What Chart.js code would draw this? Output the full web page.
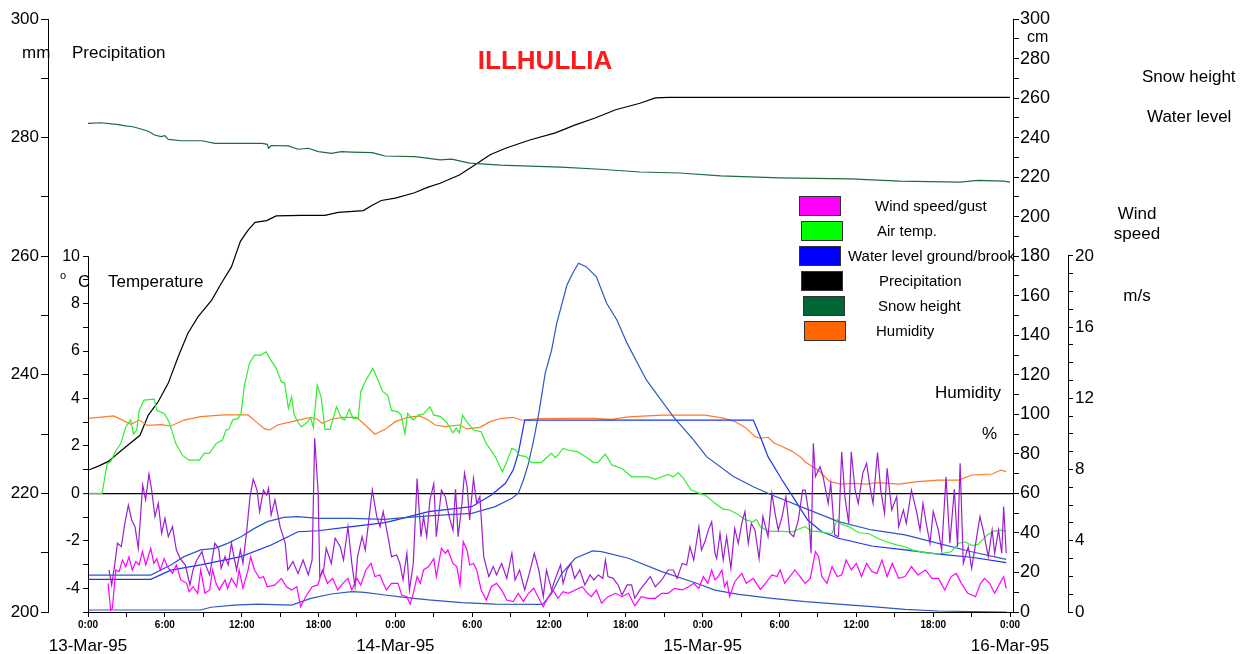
<!DOCTYPE html>
<html>
<head>
<meta charset="utf-8">
<title>ILLHULLIA</title>
<script src="https://cdn.jsdelivr.net/npm/chart.js@4.4.1/dist/chart.umd.min.js"></script>
<style>
  html, body { margin: 0; padding: 0; background: #fff; }
  #wrap { width: 1250px; height: 654px; }
</style>
</head>
<body>
<div id="wrap"><canvas id="illChart" width="1250" height="654"></canvas></div>
<script>
// hours since 13-Mar-95 0:00, value
const airTemp = [[0,0],[1.1,0],[1.5,1.26],[1.77,1.33],[2.17,1.8],[2.56,2.1],[2.95,2.8],[3.34,3.1],[3.55,2.5],[3.8,2.67],[4.0,3.5],[4.38,3.93],[5.17,3.97],[5.37,3.5],[5.95,3.37],[6.34,3.0],[6.86,2.1],[7.38,1.6],[7.9,1.4],[8.7,1.4],[9.08,1.69],[9.5,1.7],[10,2.1],[10.5,2.25],[10.77,2.67],[11.0,2.7],[11.3,3.1],[11.7,3.15],[11.95,3.37],[12.2,4.5],[12.6,5.48],[13,5.83],[13.5,5.83],[13.9,5.97],[14.3,5.6],[14.7,5.27],[15.1,4.7],[15.35,4.66],[15.65,3.58],[15.9,4.07],[16.1,3.3],[16.4,3.0],[16.65,2.8],[17,2.95],[17.4,3.16],[17.6,2.78],[17.9,4.56],[18.2,4.07],[18.5,2.7],[18.9,2.7],[19.4,3.65],[19.8,3.16],[20.05,3.1],[20.4,3.55],[20.7,3.16],[21.1,3.16],[21.3,4.3],[21.7,4.77],[22.25,5.27],[22.65,4.77],[23,4.3],[23.4,4.14],[23.7,3.5],[24.2,3.44],[24.45,3.3],[24.75,2.52],[24.96,3.37],[25.4,3.1],[25.8,3.3],[26.2,3.35],[26.7,3.65],[27,3.3],[27.5,3.25],[28,3.0],[28.5,2.55],[28.75,2.75],[29.0,2.55],[29.25,3.3],[29.55,3.05],[30.1,2.67],[30.7,2.6],[31.1,2.1],[31.5,1.8],[31.9,1.45],[32.35,0.9],[32.7,1.33],[33.1,1.9],[33.4,1.83],[33.7,1.6],[34.2,1.55],[34.65,1.3],[35.4,1.3],[35.8,1.5],[36.2,1.69],[36.5,1.5],[37.1,1.9],[37.5,1.83],[38.2,1.76],[38.8,1.57],[39.5,1.3],[39.8,1.3],[40.4,1.66],[40.9,1.2],[41.7,1.05],[42.45,0.7],[43.75,0.7],[44.3,0.59],[44.8,0.7],[45.3,0.8],[45.7,0.7],[46.1,0.87],[46.5,0.63],[47.1,0.14],[47.75,0],[48.2,-0.07],[48.96,-0.42],[49.6,-0.66],[50.1,-0.7],[50.8,-0.9],[51.3,-1.1],[51.9,-1.2],[52.2,-1.1],[52.5,-1.4],[53.1,-1.6],[54.2,-1.6],[55,-1.62],[55.5,-1.5],[56,-1.4],[56.5,-1.6],[57,-1.6],[58.1,-1.7],[58.5,-1.1],[58.8,-1.3],[59.4,-1.4],[60.2,-1.66],[61,-1.7],[61.7,-1.9],[62.4,-2.05],[63.2,-2.18],[63.8,-2.25],[64.4,-2.39],[65.4,-2.5],[66.4,-2.56],[67.4,-2.46],[68,-2.1],[68.5,-2.04],[69,-2.2],[69.5,-2.15],[70.2,-1.76],[70.7,-1.6],[71.3,-1.55],[71.7,-1.6]];

const humidity = [[0,98],[2.03,99.2],[3.34,95],[4,97.1],[4.64,94.4],[5.7,94.8],[6.47,94.1],[7.5,97.1],[8.8,98.8],[10.6,99.7],[12.5,99.7],[13.1,96.3],[13.8,92.6],[14.2,92.1],[14.8,94.6],[15.9,96.3],[17.4,98.5],[17.9,97.5],[18.3,95.5],[19,97.5],[19.8,98.5],[20.95,98.5],[21.5,95.5],[22.4,89.9],[23.2,92.4],[24,96.3],[25,98.5],[25.9,99.2],[26.6,97],[27.1,94.6],[27.9,93.8],[29,94.6],[29.6,92.6],[30.6,93.4],[31.4,96.3],[32.3,98],[33.2,98.5],[33.9,97],[35.2,97.9],[37.5,98],[39.5,98],[40.9,97.5],[42.2,98.7],[44.8,99.6],[46.9,99.6],[48.2,99.6],[49.7,98],[50.5,96.4],[51.3,93.5],[52.1,88.7],[52.5,87.9],[53.1,88.4],[53.6,85.4],[54.2,83.7],[54.95,81.4],[55.7,78.1],[56,75.9],[56.5,73.9],[57.1,71.3],[57.9,66],[58.8,64.7],[59.8,65.1],[60.7,64.7],[61.7,65.4],[63.3,64.7],[64.8,66],[66.4,66.7],[68,66.7],[69,69.3],[70.6,69.8],[71.3,71.8],[71.7,71]];

const snowHeight = [[0,247.2],[1.0,247.5],[1.85,246.9],[2.4,246.6],[2.9,245.9],[3.5,245.5],[4.2,244.2],[4.7,243.2],[5.2,241.3],[5.7,240.5],[6.0,241],[6.27,239.1],[7.3,238.4],[8.9,238.4],[9.9,237.1],[13.6,237.1],[14.0,236.6],[14.1,234.6],[14.3,236],[15.65,235.8],[16.4,234.1],[17.2,234.6],[18,232.9],[19,232],[19.8,232.9],[20.6,232.7],[22.2,232.4],[22.7,231.5],[23.2,230.7],[25.5,230.4],[26,230],[27.5,228.7],[28.4,229.1],[29.8,227.1],[32.2,226.1],[34.5,225.6],[36.9,225.1],[40,224],[43.1,222.6],[46.2,222.1],[49.4,220.6],[54,219.6],[59.5,219.1],[63.4,218],[68.1,217.5],[69.5,218.4],[71.5,218],[72,217.5]];

const precipitation = [[0,223.9],[0.81,224.6],[1.59,225.4],[2.37,226.8],[3.15,228.2],[4.06,229.8],[4.71,233.2],[5.49,235.5],[6.27,238.6],[7.05,243.1],[7.8,247],[8.6,249.8],[9.66,252.6],[10.4,255.4],[11.2,258.2],[11.9,262.5],[12.5,264.4],[13.05,265.7],[13.95,266],[14.7,266.8],[16.7,266.9],[18.5,266.9],[19.55,267.4],[21.5,267.7],[22.2,268.6],[22.9,269.4],[24,269.8],[25.5,270.7],[26.5,271.6],[27.5,272.3],[29,273.7],[30.2,275.4],[31.4,277.1],[32.6,278.2],[34.5,279.6],[36.5,280.8],[38,282.1],[39.6,283.3],[41.2,284.7],[43.1,285.8],[44.3,286.7],[45.4,286.8],[72,286.8]];

const waterLevelGround1 = [[0,18.7],[4.9,18.7],[6.47,23.8],[7.5,28],[8.8,31.4],[9.9,32.2],[10.9,34.7],[11.95,38.1],[13,42.3],[14,45.7],[15.3,47.9],[16.4,48.2],[17.95,47.4],[20.6,47.4],[23.2,46.9],[24,47.4],[26.6,48.6],[29.96,49.9],[31.8,53.3],[33.1,57.5],[33.6,60],[34,66.8],[34.4,75.2],[34.8,87],[35.2,100.5],[35.7,120.7],[36.2,132.5],[36.6,146],[37.4,165.4],[37.9,172],[38.3,176.4],[38.9,174.7],[39.7,169.6],[40.5,156.2],[41.3,147.7],[42.1,135.9],[43.6,117.4],[45.7,98.8],[47.3,87],[48.3,78.6],[50.4,68.5],[51.95,63.4],[53.4,59.2],[56,52.4],[58.6,45.7],[61.2,41.5],[63.8,39],[66.4,34.7],[69,30.5],[71.7,26.6]];

const waterLevelGround2 = [[0,16.5],[4.9,16.5],[6.47,21.2],[8.8,23.8],[11.95,28],[14.3,33.9],[15.3,37.1],[16.4,40.6],[17.95,41.1],[20.6,43.2],[23.2,45.2],[24,46.5],[26.6,50.8],[29.96,53.3],[31.5,59.2],[32.6,65.1],[33.2,71.8],[33.6,80.3],[33.9,90.4],[34.1,97.1],[51.95,97.1],[52.5,88.7],[53.1,78.6],[54.2,66.8],[55.2,56.7],[56.2,46.5],[57.3,40.6],[58.6,37.3],[61.2,33.4],[63.8,31.4],[66.4,29.3],[69,27.7],[71.7,25]];

const waterLevelBrook = [[0,1],[8.8,1],[9.6,2.4],[11.4,3.5],[13.25,4],[15.9,3.5],[17.4,6.9],[19,9.1],[20.6,10.3],[21.6,9.9],[23.2,8.6],[24.7,7.4],[26.6,6.1],[29.2,4.7],[31.8,4],[35.5,3.9],[36.2,9.4],[37,19.6],[38.05,27.2],[39.4,30.9],[40.1,30.5],[42.2,27.2],[44.8,20.4],[47.4,14.8],[48.96,11.1],[50.8,8.9],[53.4,6.9],[56,5.2],[58.6,4],[61.2,2.7],[63.8,1.3],[66.4,0.5],[69,0.2],[71.7,0]];

const windSpeed = [[1.57,1.61],[1.77,0.1],[1.9,0.2],[2.17,2.36],[2.43,2.27],[2.69,2.92],[2.95,2.55],[3.2,3.1],[3.46,2.36],[3.73,2.83],[3.99,2.64],[4.25,3.39],[4.51,2.64],[4.9,3.58],[5.14,2.73],[5.37,3.0],[5.64,2.36],[5.95,3.0],[6.2,2.55],[6.6,2.17],[6.9,2.64],[7.25,1.8],[7.7,1.61],[7.9,1.14],[8.2,1.42],[8.56,1.05],[8.8,2.36],[9.13,1.05],[9.5,1.24],[9.73,2.36],[10,1.61],[10.25,1.24],[10.7,1.8],[10.9,1.33],[11.2,1.89],[11.6,1.42],[11.8,2.36],[12.1,1.33],[12.5,2.36],[12.7,3.1],[13,2.36],[13.4,1.89],[13.7,1.99],[14,1.42],[14.6,1.52],[15.1,1.89],[15.5,1.42],[15.9,1.24],[16.3,1.42],[16.6,0.3],[17,0.86],[17.5,1.42],[17.95,1.52],[18.3,2.36],[18.7,1.61],[19.1,1.89],[19.5,1.24],[19.9,1.61],[20.3,1.89],[20.6,1.24],[21,1.89],[21.3,1.52],[21.7,2.36],[22.1,2.73],[22.4,1.99],[22.8,2.08],[23.05,1.61],[23.3,1.24],[23.7,1.61],[24.2,1.61],[24.5,0.95],[24.9,0.86],[25.15,0.45],[25.4,1.05],[25.7,1.99],[25.95,1.61],[26.2,2.36],[26.6,2.55],[27,3.0],[27.2,1.99],[27.6,3.58],[27.9,3.3],[28.1,3.48],[28.5,2.73],[28.8,2.55],[29.05,1.52],[29.3,3.95],[29.6,3.48],[29.8,2.64],[30.1,2.73],[30.35,2.36],[30.7,1.24],[31.1,0.67],[31.5,1.42],[31.9,1.61],[32.3,1.24],[32.7,0.67],[33.2,0.58],[33.6,1.05],[34,0.58],[34.4,1.05],[34.8,1.33],[35.2,0.77],[35.55,0.3],[35.95,0.86],[36.3,1.24],[36.7,0.77],[37.1,1.14],[37.5,1.05],[38.05,1.24],[38.6,1.42],[39,1.05],[39.3,0.86],[39.7,1.24],[40.1,0.49],[40.6,0.86],[41.2,1.05],[41.7,0.86],[42.2,1.05],[42.7,0.34],[43.2,0.86],[43.75,0.77],[44.3,0.77],[44.8,1.05],[45.3,1.05],[45.8,1.33],[46.4,1.24],[46.9,1.42],[47.3,1.61],[47.7,1.33],[48.05,1.99],[48.4,1.61],[48.7,2.36],[48.96,1.8],[49.2,1.99],[49.5,2.36],[49.7,1.42],[49.9,1.7],[50.1,0.86],[50.5,1.7],[51.05,2.17],[51.4,1.61],[51.95,1.89],[52.5,1.27],[52.9,1.61],[53.4,2.08],[53.8,1.99],[54.05,2.36],[54.4,1.61],[54.8,1.99],[55.2,2.36],[55.6,1.99],[56,1.61],[56.4,1.89],[56.8,3.39],[57.05,3.11],[57.3,1.99],[57.7,1.61],[58.1,2.55],[58.5,1.99],[58.85,2.08],[59.2,2.92],[59.6,2.36],[60,2.73],[60.4,1.99],[60.8,2.73],[61.2,2.27],[61.6,2.17],[62,2.92],[62.4,1.99],[62.8,2.73],[63.3,1.89],[63.8,1.99],[64.3,2.55],[64.8,2.08],[65.4,2.36],[65.9,1.89],[66.4,1.89],[66.9,1.24],[67.4,1.99],[67.8,2.17],[68.2,1.61],[68.7,1.05],[69.3,0.86],[69.7,1.61],[70,1.89],[70.4,1.61],[70.8,1.05],[71.2,1.61],[71.5,1.99],[71.7,1.33]];

const windGust = [[1.64,2.36],[1.85,1.52],[2.1,2.73],[2.3,3.86],[2.6,3.67],[2.9,5.07],[3.15,6.0],[3.41,5.17],[3.67,4.79],[3.93,3.58],[4.27,7.13],[4.5,6.3],[4.76,7.75],[4.97,6.85],[5.23,5.36],[5.49,6.1],[5.75,4.42],[6.01,5.26],[6.27,4.23],[6.6,4.79],[6.9,3.48],[7.2,3.0],[7.6,2.64],[7.96,1.52],[8.2,2.36],[8.5,2.92],[8.9,3.39],[9.13,2.73],[9.5,2.08],[9.9,3.86],[10.2,3.58],[10.4,2.45],[10.7,3.11],[10.95,2.64],[11.2,3.86],[11.6,2.36],[11.9,3.48],[12.1,2.73],[12.4,4.6],[12.65,6.48],[12.9,7.45],[13.2,6.85],[13.4,5.64],[13.7,6.85],[13.95,6.57],[14.1,6.94],[14.3,5.45],[14.6,6.3],[15,4.79],[15.4,3.86],[15.6,2.36],[16.0,2.83],[16.4,2.17],[16.8,2.92],[17.2,2.08],[17.5,2.92],[17.7,9.76],[17.97,6.76],[18.1,1.99],[18.4,2.36],[18.6,3.58],[19.0,2.73],[19.3,4.14],[19.7,3.67],[19.95,2.92],[20.3,4.79],[20.6,2.73],[20.85,1.42],[21.05,3.11],[21.4,4.23],[21.65,3.48],[21.9,4.98],[22.2,6.85],[22.55,5.36],[22.8,4.79],[23.05,5.64],[23.45,4.14],[23.7,3.11],[24.1,3.2],[24.35,2.73],[24.6,1.8],[24.9,3.3],[25.1,1.24],[25.4,2.73],[25.7,7.5],[26,4.23],[26.2,5.36],[26.45,4.23],[26.7,6.3],[27,7.2],[27.2,4.23],[27.6,6.85],[27.9,6.48],[28.2,5.36],[28.5,4.6],[28.7,6.9],[28.9,4.23],[29.2,6.1],[29.4,7.8],[29.6,7.07],[29.8,5.17],[30.1,7.5],[30.35,6.1],[30.6,6.48],[30.9,3.11],[31.3,1.99],[31.65,2.55],[31.9,2.08],[32.3,2.73],[32.7,1.89],[33.1,3.3],[33.35,1.8],[33.7,2.36],[34.1,1.24],[34.5,2.27],[34.85,3.3],[35.2,2.36],[35.55,0.86],[35.8,2.36],[36.2,1.24],[36.5,1.89],[36.9,2.64],[37.1,1.61],[37.4,2.36],[37.7,2.73],[38.0,1.89],[38.4,2.36],[38.8,1.52],[39.2,2.08],[39.5,1.8],[39.85,2.08],[40.2,1.89],[40.4,2.92],[40.6,1.99],[41,1.89],[41.4,1.52],[41.7,0.95],[42.1,1.52],[42.45,1.52],[42.7,0.77],[43.1,1.24],[43.5,1.61],[43.9,1.99],[44.3,1.42],[44.8,1.8],[45.3,2.36],[45.7,2.36],[46,1.89],[46.4,2.73],[46.75,2.64],[47,3.67],[47.3,2.92],[47.5,3.86],[47.7,4.79],[47.9,3.48],[48.2,4.0],[48.44,4.6],[48.7,5.07],[48.96,3.3],[49.09,3.0],[49.35,4.42],[49.6,2.92],[49.87,4.23],[50.2,2.45],[50.5,4.7],[50.78,3.86],[51.05,4.98],[51.3,5.64],[51.56,3.86],[51.8,4.98],[52.08,4.6],[52.4,3.0],[52.7,5.36],[53.1,4.23],[53.4,6.67],[53.65,5.54],[53.9,4.6],[54.2,5.36],[54.5,6.48],[54.8,4.42],[55.1,4.23],[55.47,5.17],[55.8,6.85],[56,6.85],[56.25,5.73],[56.46,3.3],[56.64,9.48],[56.8,7.6],[57.16,8.16],[57.4,7.6],[57.8,6.1],[58,7.23],[58.3,4.33],[58.6,4.23],[58.85,9.0],[59.1,6.48],[59.4,4.98],[59.6,9.0],[59.9,6.85],[60.15,6.1],[60.5,7.8],[60.8,8.35],[61.06,7.03],[61.3,6.1],[61.65,8.95],[61.9,6.85],[62.2,5.54],[62.4,8.07],[62.76,5.73],[63.15,6.48],[63.3,4.79],[63.67,5.73],[63.9,4.98],[64.3,6.85],[64.7,5.64],[64.97,4.6],[65.2,6.1],[65.5,4.79],[65.75,3.86],[66,5.64],[66.4,4.6],[66.66,3.48],[67,7.6],[67.3,3.86],[67.65,6.9],[67.9,3.67],[68.1,8.35],[68.35,2.73],[68.74,3.67],[69,2.45],[69.4,4.23],[69.65,5.36],[69.9,4.6],[70.3,3.11],[70.6,4.6],[70.8,3.3],[71.1,4.6],[71.35,3.3],[71.5,5.92],[71.7,3.3]];

// tick positions and labels
const hourTicks = [0,3,6,9,12,15,18,21,24,27,30,33,36,39,42,45,48,51,54,57,60,63,66,69,72];
const dayTicks = [0, 24, 48, 72];
const dayLabels = ['13-Mar-95', '14-Mar-95', '15-Mar-95', '16-Mar-95'];
const mmTicks = [200,210,220,230,240,250,260,270,280,290,300];
const tempTicks = [-5,-4,-3,-2,-1,0,1,2,3,4,5,6,7,8,9,10];
const cmTicks = [0,10,20,30,40,50,60,70,80,90,100,110,120,130,140,150,160,170,180,190,200,210,220,230,240,250,260,270,280,290,300];
const windTicks = [0,1,2,3,4,5,6,7,8,9,10,11,12,13,14,15,16,17,18,19,20];

const legendItems = [
  ['Wind speed/gust', '#ff00ff'],
  ['Air temp.', '#00ff00'],
  ['Water level ground/brook', '#0000ff'],
  ['Precipitation', '#000000'],
  ['Snow height', '#006633'],
  ['Humidity', '#ff6600']
];

const FONT = "'Liberation Sans', Arial, Helvetica, sans-serif";
Chart.defaults.font.family = FONT;
Chart.defaults.color = '#000';

const pts = arr => arr.map(([x, y]) => ({ x, y }));
const clear = 'rgba(0,0,0,0)';

function fixTicks(list) {
  return scale => { scale.ticks = list.map(v => ({ value: v })); };
}
function fixWidth(w) {
  return scale => { scale.width = w; };
}
function fixHeight(h) {
  return scale => { scale.height = h; };
}

function line(label, data, color, axis, width) {
  return {
    label: label,
    data: pts(data),
    yAxisID: axis,
    borderColor: color,
    backgroundColor: color,
    borderWidth: width || 1.2,
    pointRadius: 0,
    fill: false,
    tension: 0
  };
}

// free texts, legend and the short axis lines
const decorations = {
  id: 'decorations',
  afterDraw(chart) {
    const c = chart.ctx;
    const s = chart.scales;
    c.save();

    c.strokeStyle = '#000';
    c.lineWidth = 1;
    c.beginPath();
    const tx = Math.round(s.yTemp.right) + 0.5;
    c.moveTo(tx, s.yTemp.getPixelForValue(10));
    c.lineTo(tx, s.yTemp.getPixelForValue(-5));
    const wx = Math.round(s.yWind.left) + 0.5;
    c.moveTo(wx, s.yWind.getPixelForValue(20));
    c.lineTo(wx, s.yWind.getPixelForValue(0));
    c.stroke();

    c.fillStyle = '#000';
    c.textBaseline = 'middle';
    c.textAlign = 'left';
    const txt = (t, x, y, size) => {
      c.font = (size || 17) + 'px ' + FONT;
      c.fillText(t, x, y);
    };
    txt('mm', 22, 53);
    txt('Precipitation', 72, 53);
    txt('o', 60, 276, 11);
    txt('C', 78, 282);
    txt('Temperature', 108, 282);
    txt('cm', 1027, 38, 16);
    txt('Snow height', 1142, 77);
    txt('Water level', 1147, 117);
    c.textAlign = 'center';
    txt('Wind', 1137, 214);
    txt('speed', 1137, 234);
    txt('m/s', 1137, 296);
    c.textAlign = 'left';
    txt('Humidity', 935, 393);
    txt('%', 982, 434);

    c.font = 'bold 26px ' + FONT;
    c.fillStyle = '#ff1a1a';
    c.textAlign = 'center';
    c.fillText('ILLHULLIA', 545, 62);

    // legend
    const boxX = [799, 801, 799, 801, 803, 804];
    const textX = [875, 877, 848, 879, 878, 876];
    legendItems.forEach((item, i) => {
      const y = 196 + i * 25;
      c.fillStyle = item[1];
      c.fillRect(boxX[i], y, 42, 20);
      c.strokeStyle = '#333';
      c.lineWidth = 1;
      c.strokeRect(boxX[i] + 0.5, y + 0.5, 41, 19);
      c.fillStyle = '#000';
      c.textAlign = 'left';
      c.font = '15px ' + FONT;
      c.fillText(item[0], textX[i], y + 11);
    });
    c.restore();
  }
};

const ctx = document.getElementById('illChart').getContext('2d');
new Chart(ctx, {
  type: 'line',
  data: {
    datasets: [
      line('Wind gust', windGust, '#9b1fd1', 'yWind'),
      line('Wind speed', windSpeed, '#ff00ff', 'yWind'),
      line('Air temp.', airTemp, '#2cf02c', 'yTemp'),
      line('Water level ground 1', waterLevelGround1, '#2b58c2', 'yCm'),
      line('Water level ground 2', waterLevelGround2, '#1a34f2', 'yCm'),
      line('Water level brook', waterLevelBrook, '#2b58c2', 'yCm'),
      line('Humidity', humidity, '#ff7a26', 'yCm'),
      line('Snow height', snowHeight, '#1d6b3e', 'yCm'),
      line('Precipitation', precipitation, '#000000', 'yMm')
    ]
  },
  options: {
    responsive: false,
    animation: false,
    devicePixelRatio: 1,
    layout: { padding: { left: 0, top: 19, right: 100, bottom: 0 } },
    plugins: {
      legend: { display: false },
      tooltip: { enabled: false },
      title: { display: false }
    },
    scales: {
      x: {
        type: 'linear',
        position: 'bottom',
        weight: 0,
        min: 0,
        max: 72.23,
        afterBuildTicks: fixTicks(hourTicks),
        afterFit: fixHeight(22),
        grid: { drawOnChartArea: false, tickLength: 5, color: '#000', tickColor: '#000' },
        border: { color: '#000', width: 1 },
        ticks: {
          autoSkip: false,
          maxRotation: 0,
          padding: 2,
          font: { size: 10, weight: 'bold' },
          callback: v => (v % 6 === 0 ? (v % 24) + ':00' : '')
        }
      },
      xDate: {
        type: 'linear',
        position: 'bottom',
        weight: 1,
        min: 0,
        max: 72.23,
        afterBuildTicks: fixTicks(dayTicks),
        afterFit: fixHeight(20),
        grid: { display: false, drawTicks: false },
        border: { display: false },
        ticks: {
          autoSkip: false,
          maxRotation: 0,
          padding: 2,
          font: { size: 17 },
          callback: (v, i) => dayLabels[i]
        }
      },
      yMm: {
        type: 'linear',
        position: 'left',
        weight: 1,
        min: 200,
        max: 300,
        afterBuildTicks: fixTicks(mmTicks),
        afterFit: fixWidth(48),
        grid: { drawOnChartArea: false, tickLength: 7, color: '#000', tickColor: '#000' },
        border: { color: '#000', width: 1 },
        ticks: {
          autoSkip: false,
          padding: 2,
          font: { size: 17 },
          callback: v => (v % 20 === 0 ? v : '')
        }
      },
      yTemp: {
        type: 'linear',
        position: 'left',
        weight: 0,
        min: -5,
        max: 20,
        afterBuildTicks: fixTicks(tempTicks),
        afterFit: fixWidth(40),
        grid: {
          drawOnChartArea: true,
          tickLength: 5,
          color: c => (c.tick && c.tick.value === 0 ? '#000' : clear),
          lineWidth: c => (c.tick && c.tick.value === 0 ? 1.3 : 1),
          tickColor: '#000',
          tickWidth: 1
        },
        border: { display: false },
        ticks: {
          autoSkip: false,
          padding: 3,
          font: { size: 16 },
          callback: v => (v % 2 === 0 ? v : '')
        }
      },
      yCm: {
        type: 'linear',
        position: 'right',
        weight: 0,
        min: 0,
        max: 300,
        afterBuildTicks: fixTicks(cmTicks),
        afterFit: fixWidth(55),
        grid: { drawOnChartArea: false, tickLength: 6, color: '#000', tickColor: '#000' },
        border: { color: '#000', width: 1 },
        ticks: {
          autoSkip: false,
          padding: 1,
          font: { size: 18 },
          callback: v => (v % 20 === 0 ? v : '')
        }
      },
      yWind: {
        type: 'linear',
        position: 'right',
        weight: 1,
        min: 0,
        max: 33.31,
        afterBuildTicks: fixTicks(windTicks),
        afterFit: fixWidth(82),
        grid: { drawOnChartArea: false, tickLength: 5, color: '#000', tickColor: '#000' },
        border: { display: false },
        ticks: {
          autoSkip: false,
          padding: 2,
          font: { size: 17 },
          callback: v => (v % 4 === 0 ? v : '')
        }
      }
    }
  },
  plugins: [decorations]
});
</script>
</body>
</html>
